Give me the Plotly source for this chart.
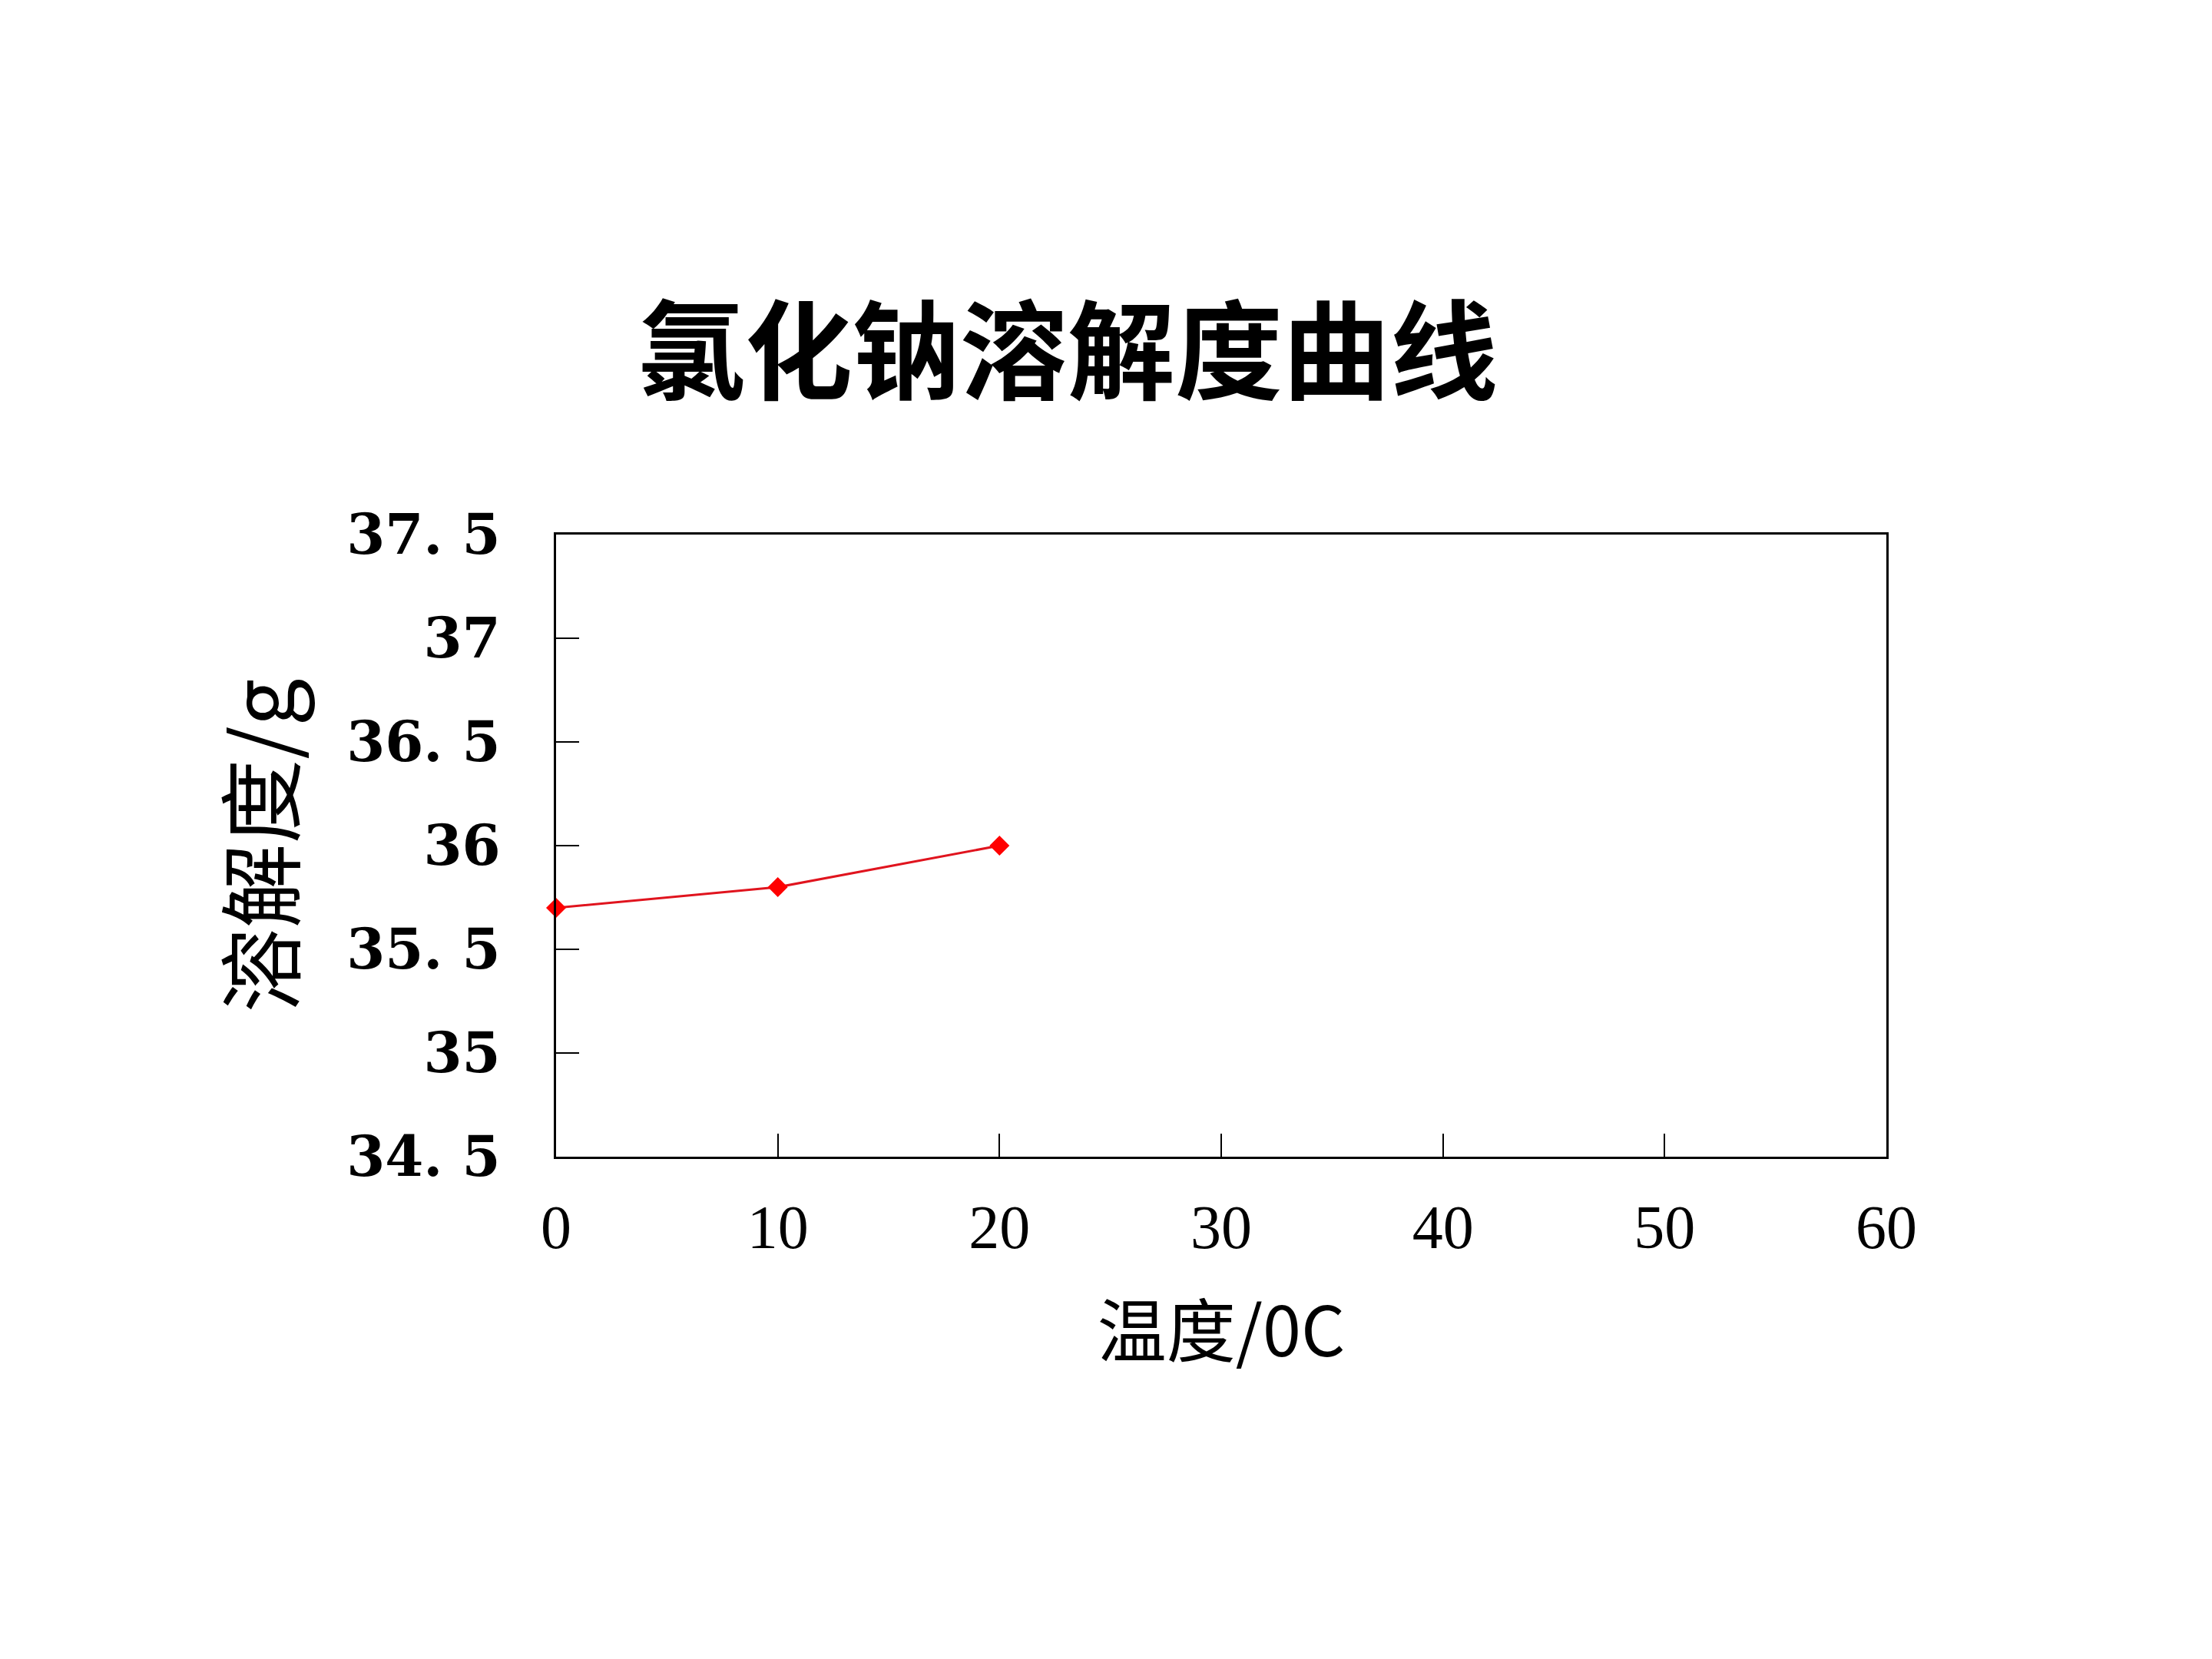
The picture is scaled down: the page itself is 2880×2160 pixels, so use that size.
import plotly.graph_objects as go

temps = [0, 10, 20]
solubility = [35.7, 35.8, 36.0]
y_ticks = [34.5, 35, 35.5, 36, 36.5, 37, 37.5]
y_tick_labels = ["34. 5", "35", "35. 5", "36", "36. 5", "37", "37. 5"]
x_ticks = [0, 10, 20, 30, 40, 50, 60]

fig = go.Figure()
fig.add_trace(go.Scatter(
    x=temps, y=solubility, mode="lines+markers",
    line=dict(color="#E0141E", width=3),
    marker=dict(symbol="diamond", size=20, color="#FF0000"),
    cliponaxis=False, showlegend=False,
))

fig.update_layout(
    width=2880, height=2160,
    paper_bgcolor="white", plot_bgcolor="white",
    margin=dict(l=724, r=424, t=696, b=654),
    title=dict(text="氯化钠溶解度曲线", x=0.4826, xanchor="center", y=0.787, yanchor="middle",
               font=dict(family="Noto Sans CJK SC", size=140, color="black", weight="bold")),
    xaxis=dict(range=[0, 60], tickvals=x_ticks, ticks="inside", ticklen=30, tickwidth=2,
               tickcolor="black", showline=True, linecolor="black", linewidth=3, mirror=True,
               showgrid=False, zeroline=False, ticklabelstandoff=20,
               tickfont=dict(family="Liberation Serif", size=80, color="black"),
               title=dict(text="温度/0C", font=dict(family="Noto Sans CJK SC", size=90, color="black"),
                          standoff=62)),
    yaxis=dict(range=[34.5, 37.5], tickvals=y_ticks, ticktext=y_tick_labels, ticks="inside",
               ticklen=30, tickwidth=2, tickcolor="black", showline=True, linecolor="black",
               linewidth=3, mirror=True, showgrid=False, zeroline=False, ticklabelstandoff=55,
               tickfont=dict(family="DejaVu Serif", size=72, color="black", weight="bold"),
               title=dict(text="溶解度/g", font=dict(family="Noto Sans CJK SC", size=110, color="black"),
                          standoff=32)),
)

fig.write_html("out.html")
